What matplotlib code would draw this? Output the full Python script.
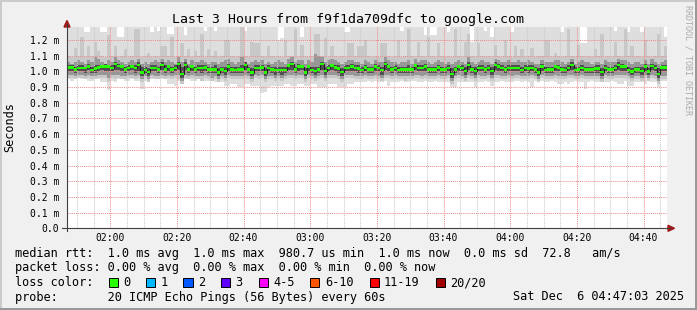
import matplotlib
matplotlib.use('Agg')
import matplotlib.pyplot as plt
import matplotlib.dates as mdates
from matplotlib.patches import Rectangle, Polygon
from matplotlib.lines import Line2D
from matplotlib.ticker import FuncFormatter, FixedLocator
from datetime import datetime, timedelta

# ---- data (ms), one value per 60 s step -------------------------------
start = datetime(2025, 12, 6, 1, 47, 3)

median = [
    1.025, 1.025, 1.013, 1.021, 1.021, 1.021, 1.030, 1.008, 1.017, 1.025, 1.030, 1.030, 1.030, 1.021, 1.047,
    1.034, 1.030, 1.013, 1.021, 1.030, 1.021, 1.042, 0.992, 1.008, 0.996, 1.021, 1.021, 1.013, 1.042, 1.013,
    1.030, 1.013, 1.021, 1.047, 0.983, 1.042, 1.013, 1.030, 1.013, 1.021, 1.021, 1.025, 1.013, 1.013, 1.013,
    0.992, 1.013, 1.004, 1.030, 1.013, 1.008, 1.013, 1.013, 1.042, 1.013, 0.992, 1.021, 1.021, 1.025, 0.992,
    1.021, 1.013, 1.008, 1.008, 1.008, 1.008, 1.038, 1.047, 1.013, 1.030, 1.030, 0.992, 1.030, 1.008, 1.004,
    1.013, 1.047, 1.004, 1.021, 1.038, 1.025, 1.017, 0.996, 1.021, 1.021, 1.030, 1.021, 1.017, 1.008, 1.025,
    1.013, 1.013, 1.030, 1.021, 1.008, 1.047, 1.030, 1.013, 1.021, 1.008, 1.013, 1.013, 1.013, 1.013, 1.038,
    1.021, 1.021, 1.030, 1.013, 1.013, 1.013, 1.025, 1.013, 1.013, 1.021, 0.983, 1.013, 1.030, 1.021, 1.004,
    1.042, 1.013, 1.004, 1.021, 1.021, 1.013, 1.021, 1.004, 1.042, 1.030, 1.021, 1.013, 1.021, 1.021, 1.021,
    1.021, 1.008, 1.021, 1.017, 1.021, 1.013, 0.992, 1.030, 1.008, 1.013, 1.013, 1.030, 1.025, 1.013, 1.008,
    1.021, 1.042, 1.008, 1.013, 1.021, 1.013, 1.013, 1.013, 1.017, 1.017, 0.996, 1.021, 1.013, 1.013, 1.021,
    1.042, 1.030, 1.030, 1.008, 1.000, 1.013, 1.013, 1.004, 1.030, 1.000, 1.034, 1.021, 0.983, 1.025, 1.025,
]

# smoke envelopes (from outer to inner)
ping_max = [
    1.30, 1.30, 1.30, 1.30, 1.30, 1.25, 1.25, 1.30, 1.30, 1.30, 1.25, 1.25, 1.30, 1.30, 1.30,
    1.22, 1.22, 1.30, 1.30, 1.30, 1.30, 1.30, 1.30, 1.30, 1.30, 1.25, 1.30, 1.26, 1.30, 1.30,
    1.24, 1.24, 1.30, 1.30, 1.30, 1.23, 1.30, 1.30, 1.30, 1.30, 1.30, 1.26, 1.30, 1.30, 1.26,
    1.30, 1.30, 1.30, 1.30, 1.30, 1.30, 1.30, 1.30, 1.26, 1.30, 1.30, 1.30, 1.30, 1.30, 1.30,
    1.30, 1.30, 1.30, 1.20, 1.21, 1.30, 1.30, 1.30, 1.30, 1.30, 1.22, 1.30, 1.30, 1.30, 1.30,
    1.30, 1.30, 1.30, 1.30, 1.30, 1.30, 1.30, 1.30, 1.25, 1.25, 1.30, 1.30, 1.30, 1.30, 1.30,
    1.30, 1.30, 1.30, 1.30, 1.30, 1.30, 1.30, 1.30, 1.30, 1.30, 1.26, 1.30, 1.30, 1.30, 1.30,
    1.30, 1.30, 1.23, 1.30, 1.23, 1.23, 1.30, 1.30, 1.30, 1.25, 1.30, 1.30, 1.30, 1.30, 1.30,
    1.30, 1.19, 1.30, 1.30, 1.30, 1.26, 1.30, 1.22, 1.30, 1.30, 1.30, 1.30, 1.30, 1.25, 1.30,
    1.30, 1.30, 1.30, 1.30, 1.30, 1.30, 1.30, 1.30, 1.30, 1.30, 1.30, 1.30, 1.30, 1.25, 1.30,
    1.30, 1.30, 1.30, 1.30, 1.18, 1.18, 1.30, 1.30, 1.30, 1.30, 1.30, 1.30, 1.30, 1.30, 1.26,
    1.30, 1.30, 1.30, 1.25, 1.30, 1.30, 1.30, 1.25, 1.30, 1.30, 1.30, 1.30, 1.30, 1.30, 1.22,
]
hi_mid = [
    1.10, 1.09, 1.15, 1.10, 1.22, 1.09, 1.16, 1.10, 1.19, 1.13, 1.10, 1.09, 1.23, 1.10, 1.16,
    1.09, 1.10, 1.14, 1.09, 1.10, 1.27, 1.27, 1.09, 1.10, 1.12, 1.09, 1.10, 1.09, 1.16, 1.16,
    1.10, 1.22, 1.09, 1.10, 1.18, 1.10, 1.14, 1.09, 1.13, 1.10, 1.24, 1.09, 1.14, 1.10, 1.13,
    1.09, 1.10, 1.20, 1.20, 1.10, 1.09, 1.10, 1.28, 1.10, 1.09, 1.19, 1.18, 1.18, 1.10, 1.09,
    1.16, 1.10, 1.09, 1.10, 1.09, 1.20, 1.10, 1.10, 1.27, 1.09, 1.17, 1.10, 1.09, 1.10, 1.24,
    1.24, 1.10, 1.21, 1.09, 1.16, 1.10, 1.09, 1.10, 1.09, 1.18, 1.18, 1.10, 1.16, 1.16, 1.20,
    1.10, 1.09, 1.10, 1.09, 1.18, 1.18, 1.10, 1.09, 1.10, 1.20, 1.09, 1.10, 1.27, 1.10, 1.09,
    1.19, 1.10, 1.09, 1.22, 1.10, 1.09, 1.18, 1.10, 1.09, 1.10, 1.09, 1.27, 1.10, 1.09, 1.19,
    1.24, 1.10, 1.09, 1.18, 1.10, 1.09, 1.10, 1.09, 1.17, 1.10, 1.09, 1.20, 1.10, 1.09, 1.16,
    1.10, 1.14, 1.09, 1.10, 1.15, 1.09, 1.10, 1.10, 1.20, 1.20, 1.09, 1.12, 1.10, 1.09, 1.10,
    1.27, 1.10, 1.09, 1.17, 1.10, 1.09, 1.10, 1.09, 1.14, 1.10, 1.24, 1.09, 1.10, 1.09, 1.19,
    1.10, 1.09, 1.27, 1.10, 1.16, 1.09, 1.10, 1.09, 1.20, 1.10, 1.09, 1.10, 1.24, 1.10, 1.16,
]
hi_grey = [
    1.06, 1.05, 1.06, 1.07, 1.06, 1.05, 1.07, 1.06, 1.09, 1.08, 1.06, 1.05, 1.07, 1.06, 1.09,
    1.07, 1.06, 1.05, 1.06, 1.07, 1.06, 1.08, 1.05, 1.06, 1.05, 1.06, 1.07, 1.06, 1.08, 1.06,
    1.07, 1.06, 1.05, 1.09, 1.06, 1.08, 1.05, 1.07, 1.06, 1.06, 1.07, 1.06, 1.05, 1.06, 1.06,
    1.05, 1.06, 1.07, 1.08, 1.06, 1.05, 1.06, 1.09, 1.06, 1.05, 1.06, 1.07, 1.06, 1.07, 1.05,
    1.06, 1.05, 1.06, 1.07, 1.06, 1.05, 1.08, 1.09, 1.06, 1.07, 1.07, 1.05, 1.07, 1.06, 1.11,
    1.10, 1.09, 1.06, 1.07, 1.08, 1.07, 1.06, 1.05, 1.06, 1.07, 1.07, 1.06, 1.06, 1.05, 1.07,
    1.06, 1.05, 1.07, 1.06, 1.06, 1.09, 1.07, 1.06, 1.06, 1.05, 1.06, 1.06, 1.07, 1.05, 1.08,
    1.06, 1.07, 1.07, 1.06, 1.05, 1.06, 1.07, 1.06, 1.05, 1.06, 1.05, 1.06, 1.07, 1.06, 1.05,
    1.09, 1.06, 1.05, 1.06, 1.07, 1.06, 1.06, 1.05, 1.08, 1.07, 1.06, 1.06, 1.07, 1.06, 1.06,
    1.07, 1.06, 1.06, 1.07, 1.06, 1.05, 1.05, 1.07, 1.06, 1.06, 1.06, 1.07, 1.07, 1.06, 1.05,
    1.06, 1.08, 1.05, 1.06, 1.07, 1.06, 1.06, 1.05, 1.06, 1.06, 1.05, 1.07, 1.06, 1.06, 1.06,
    1.08, 1.07, 1.07, 1.06, 1.05, 1.06, 1.06, 1.05, 1.07, 1.05, 1.08, 1.06, 1.05, 1.06, 1.07,
]
core_hi = [
    1.04, 1.04, 1.03, 1.04, 1.04, 1.03, 1.05, 1.03, 1.04, 1.04, 1.04, 1.05, 1.04, 1.04, 1.06,
    1.05, 1.04, 1.03, 1.04, 1.04, 1.04, 1.06, 1.03, 1.03, 1.02, 1.04, 1.04, 1.03, 1.06, 1.04,
    1.04, 1.03, 1.04, 1.06, 1.03, 1.06, 1.03, 1.04, 1.03, 1.04, 1.04, 1.04, 1.03, 1.03, 1.04,
    1.02, 1.03, 1.03, 1.05, 1.03, 1.03, 1.03, 1.04, 1.06, 1.03, 1.02, 1.04, 1.04, 1.04, 1.02,
    1.04, 1.03, 1.03, 1.03, 1.03, 1.03, 1.05, 1.06, 1.03, 1.05, 1.04, 1.02, 1.04, 1.03, 1.03,
    1.03, 1.06, 1.03, 1.04, 1.05, 1.04, 1.04, 1.02, 1.04, 1.04, 1.05, 1.04, 1.04, 1.03, 1.04,
    1.03, 1.03, 1.05, 1.04, 1.03, 1.06, 1.04, 1.03, 1.04, 1.03, 1.03, 1.03, 1.04, 1.03, 1.05,
    1.04, 1.04, 1.05, 1.03, 1.03, 1.03, 1.04, 1.03, 1.03, 1.04, 1.02, 1.03, 1.04, 1.04, 1.03,
    1.06, 1.03, 1.03, 1.04, 1.04, 1.03, 1.04, 1.03, 1.06, 1.05, 1.04, 1.03, 1.04, 1.04, 1.04,
    1.04, 1.03, 1.04, 1.04, 1.04, 1.03, 1.02, 1.05, 1.03, 1.03, 1.03, 1.04, 1.04, 1.03, 1.03,
    1.04, 1.06, 1.03, 1.03, 1.04, 1.03, 1.03, 1.03, 1.04, 1.04, 1.02, 1.04, 1.03, 1.03, 1.04,
    1.06, 1.05, 1.04, 1.03, 1.02, 1.03, 1.03, 1.03, 1.05, 1.02, 1.05, 1.04, 1.02, 1.04, 1.04,
]
core_lo = [
    1.00, 1.00, 0.99, 1.00, 1.00, 0.99, 1.01, 0.99, 0.99, 1.00, 1.01, 1.00, 1.00, 1.00, 1.01,
    1.01, 1.00, 0.99, 1.00, 1.01, 0.99, 1.00, 0.97, 0.99, 0.97, 1.00, 1.00, 0.99, 1.01, 0.99,
    1.00, 0.99, 1.00, 1.01, 0.96, 1.01, 0.99, 1.00, 0.99, 1.00, 0.99, 1.00, 0.99, 0.99, 0.99,
    0.97, 0.99, 0.98, 1.00, 0.99, 0.99, 0.99, 0.99, 1.01, 0.99, 0.97, 1.00, 1.00, 1.00, 0.97,
    1.00, 0.99, 0.98, 0.99, 0.98, 0.99, 1.01, 1.01, 0.99, 1.00, 1.01, 0.97, 1.00, 0.99, 0.98,
    0.99, 1.01, 0.98, 1.00, 1.01, 1.00, 0.99, 0.97, 1.00, 1.00, 1.00, 1.00, 0.99, 0.99, 1.00,
    0.99, 0.99, 1.00, 1.00, 0.98, 1.01, 1.00, 0.99, 1.00, 0.99, 0.99, 0.99, 0.99, 0.99, 1.01,
    1.00, 1.00, 1.00, 0.99, 0.99, 0.99, 1.00, 0.99, 0.99, 1.00, 0.96, 0.99, 1.00, 1.00, 0.98,
    1.01, 0.99, 0.98, 1.00, 1.00, 0.99, 1.00, 0.98, 1.01, 1.00, 1.00, 0.99, 1.00, 1.00, 1.00,
    1.00, 0.99, 1.00, 0.99, 1.00, 0.99, 0.97, 1.00, 0.99, 0.99, 0.99, 1.00, 1.00, 0.99, 0.99,
    1.00, 1.01, 0.99, 0.99, 1.00, 0.99, 0.99, 0.99, 0.99, 0.99, 0.97, 1.00, 0.99, 0.99, 1.00,
    1.01, 1.00, 1.00, 0.99, 0.98, 0.99, 0.99, 0.98, 1.00, 0.98, 1.01, 1.00, 0.96, 1.00, 1.00,
]
lo_grey = [
    0.98, 0.98, 0.97, 0.98, 0.98, 0.97, 0.98, 0.97, 0.97, 0.98, 0.98, 0.98, 0.96, 0.98, 0.98,
    0.98, 0.97, 0.97, 0.98, 0.98, 0.97, 0.98, 0.95, 0.97, 0.95, 0.98, 0.97, 0.97, 0.98, 0.97,
    0.98, 0.97, 0.98, 0.98, 0.94, 0.98, 0.97, 0.98, 0.97, 0.97, 0.97, 0.98, 0.97, 0.96, 0.97,
    0.95, 0.97, 0.96, 0.98, 0.97, 0.97, 0.97, 0.97, 0.98, 0.97, 0.95, 0.98, 0.97, 0.98, 0.95,
    0.97, 0.97, 0.96, 0.97, 0.96, 0.97, 0.98, 0.98, 0.97, 0.98, 0.98, 0.95, 0.98, 0.97, 0.96,
    0.97, 0.98, 0.96, 0.98, 0.98, 0.98, 0.97, 0.95, 0.98, 0.98, 0.98, 0.97, 0.97, 0.97, 0.98,
    0.97, 0.97, 0.98, 0.97, 0.96, 0.98, 0.98, 0.97, 0.98, 0.97, 0.97, 0.97, 0.97, 0.97, 0.98,
    0.98, 0.97, 0.98, 0.97, 0.97, 0.97, 0.98, 0.97, 0.97, 0.98, 0.94, 0.97, 0.98, 0.97, 0.96,
    0.98, 0.97, 0.96, 0.98, 0.97, 0.97, 0.98, 0.96, 0.98, 0.98, 0.97, 0.97, 0.98, 0.97, 0.98,
    0.98, 0.97, 0.97, 0.97, 0.98, 0.97, 0.95, 0.98, 0.97, 0.97, 0.97, 0.98, 0.97, 0.97, 0.97,
    0.98, 0.98, 0.97, 0.97, 0.98, 0.97, 0.97, 0.97, 0.97, 0.97, 0.95, 0.98, 0.97, 0.97, 0.98,
    0.98, 0.98, 0.98, 0.97, 0.96, 0.97, 0.97, 0.96, 0.98, 0.96, 0.98, 0.97, 0.94, 0.97, 0.97,
]
lo_mid = [
    0.96, 0.96, 0.95, 0.96, 0.96, 0.95, 0.96, 0.95, 0.95, 0.96, 0.96, 0.96, 0.93, 0.96, 0.95,
    0.96, 0.95, 0.95, 0.96, 0.96, 0.95, 0.96, 0.93, 0.95, 0.93, 0.96, 0.95, 0.95, 0.96, 0.95,
    0.96, 0.95, 0.96, 0.95, 0.92, 0.96, 0.95, 0.96, 0.95, 0.95, 0.94, 0.96, 0.95, 0.94, 0.95,
    0.93, 0.95, 0.94, 0.96, 0.95, 0.95, 0.95, 0.95, 0.96, 0.95, 0.93, 0.96, 0.95, 0.96, 0.93,
    0.95, 0.95, 0.94, 0.95, 0.94, 0.95, 0.96, 0.96, 0.95, 0.96, 0.96, 0.93, 0.96, 0.95, 0.94,
    0.95, 0.96, 0.94, 0.96, 0.96, 0.96, 0.95, 0.93, 0.96, 0.96, 0.96, 0.95, 0.95, 0.95, 0.96,
    0.95, 0.95, 0.96, 0.95, 0.94, 0.96, 0.96, 0.95, 0.96, 0.95, 0.95, 0.94, 0.95, 0.95, 0.96,
    0.96, 0.95, 0.96, 0.95, 0.95, 0.95, 0.96, 0.95, 0.95, 0.96, 0.92, 0.95, 0.96, 0.95, 0.94,
    0.96, 0.95, 0.94, 0.96, 0.95, 0.95, 0.96, 0.94, 0.96, 0.96, 0.95, 0.95, 0.96, 0.95, 0.96,
    0.96, 0.95, 0.95, 0.95, 0.96, 0.95, 0.93, 0.96, 0.95, 0.95, 0.95, 0.96, 0.95, 0.95, 0.95,
    0.96, 0.96, 0.95, 0.95, 0.96, 0.95, 0.95, 0.95, 0.95, 0.95, 0.93, 0.96, 0.95, 0.95, 0.96,
    0.96, 0.96, 0.96, 0.95, 0.94, 0.95, 0.95, 0.94, 0.96, 0.94, 0.96, 0.95, 0.92, 0.95, 0.95,
]
ping_min = [
    0.95, 0.94, 0.96, 0.96, 0.95, 0.95, 0.94, 0.94, 0.95, 0.95, 0.93, 0.93, 0.88, 0.94, 0.93,
    0.95, 0.95, 0.94, 0.94, 0.95, 0.94, 0.94, 0.89, 0.94, 0.95, 0.95, 0.96, 0.96, 0.95, 0.95,
    0.92, 0.92, 0.91, 0.94, 0.93, 0.95, 0.95, 0.94, 0.94, 0.95, 0.95, 0.94, 0.94, 0.94, 0.93,
    0.93, 0.93, 0.91, 0.91, 0.92, 0.92, 0.90, 0.90, 0.92, 0.92, 0.91, 0.91, 0.91, 0.86, 0.87,
    0.90, 0.91, 0.91, 0.91, 0.91, 0.92, 0.92, 0.91, 0.91, 0.92, 0.92, 0.91, 0.91, 0.92, 0.92,
    0.90, 0.90, 0.90, 0.92, 0.92, 0.92, 0.90, 0.90, 0.90, 0.92, 0.92, 0.93, 0.93, 0.93, 0.93,
    0.94, 0.93, 0.94, 0.93, 0.93, 0.94, 0.91, 0.93, 0.93, 0.93, 0.94, 0.93, 0.93, 0.94, 0.94,
    0.93, 0.93, 0.94, 0.93, 0.93, 0.94, 0.93, 0.93, 0.93, 0.93, 0.90, 0.90, 0.93, 0.93, 0.93,
    0.93, 0.93, 0.90, 0.93, 0.93, 0.94, 0.93, 0.91, 0.93, 0.93, 0.94, 0.93, 0.93, 0.93, 0.94,
    0.94, 0.93, 0.94, 0.93, 0.90, 0.94, 0.93, 0.94, 0.93, 0.93, 0.94, 0.93, 0.92, 0.92, 0.93,
    0.92, 0.93, 0.94, 0.93, 0.93, 0.89, 0.93, 0.94, 0.93, 0.93, 0.94, 0.93, 0.93, 0.94, 0.93,
    0.92, 0.92, 0.94, 0.91, 0.91, 0.93, 0.93, 0.93, 0.92, 0.94, 0.93, 0.93, 0.90, 0.94, 0.94,
]

y_ticks = [0.0, 0.1, 0.2, 0.3, 0.4, 0.5, 0.6, 0.7, 0.8, 0.9, 1.0, 1.1, 1.2]

loss_labels = ['0', '1', '2', '3', '4-5', '6-10', '11-19', '20/20']
loss_colors = ['#26ff00', '#00b8ff', '#0059ff', '#5e00ff', '#ff00ff', '#ff5500', '#ff0000', '#a10000']

title = 'Last 3 Hours from f9f1da709dfc to google.com'
rtt_line = 'median rtt:  1.0 ms avg  1.0 ms max  980.7 us min  1.0 ms now  0.0 ms sd  72.8   am/s'
loss_line = 'packet loss: 0.00 % avg  0.00 % max  0.00 % min  0.00 % now'
probe_line = 'probe:       20 ICMP Echo Pings (56 Bytes) every 60s'
date_text = 'Sat Dec  6 04:47:03 2025'

# ---- figure ------------------------------------------------------------
plt.rcParams['font.family'] = 'DejaVu Sans Mono'
W, H = 697, 310
fig = plt.figure(figsize=(W / 100, H / 100), dpi=100, facecolor='#f0f0f0')


def fx(px):
    return px / W


def fy(py):
    return 1 - py / H


left, right, top, bottom = 67, 667, 27.3, 228.3
ax = fig.add_axes([fx(left), fy(bottom), fx(right) - fx(left), fy(top) - fy(bottom)])
ax.set_facecolor('white')

edges = mdates.date2num([start + timedelta(minutes=i) for i in range(len(median) + 1)])

# smoke, outer to inner
ax.stairs(ping_max, edges, baseline=ping_min, fill=True, color='#dedede', lw=0)
ax.stairs(hi_mid, edges, baseline=lo_mid, fill=True, color='#c8c8c8', lw=0)
ax.stairs(hi_grey, edges, baseline=lo_grey, fill=True, color='#979797', lw=0)
ax.stairs(core_hi, edges, baseline=core_lo, fill=True, color='#505050', lw=0)

# median line + loss colour marker
ax.stairs(median, edges, baseline=None, color='#202020', lw=0.8, zorder=3)
half = 0.008
ax.stairs([m + half for m in median], edges, baseline=[m - half for m in median],
          fill=True, color=loss_colors[0], lw=0, zorder=4)

ax.set_xlim(edges[0], edges[-1])
ax.set_ylim(0, 1.281)

ax.xaxis.set_major_locator(mdates.MinuteLocator(byminute=[0, 20, 40]))
ax.xaxis.set_minor_locator(mdates.MinuteLocator(byminute=range(0, 60, 5)))
ax.xaxis.set_major_formatter(mdates.DateFormatter('%H:%M'))
ax.yaxis.set_major_locator(FixedLocator(y_ticks))
ax.yaxis.set_major_formatter(FuncFormatter(lambda v, p: '0.0' if abs(v) < 1e-9 else f'{v:.1f} m'))

dot = (0, (1, 1))
ax.xaxis.grid(True, which='minor', color='#c8c8c8', lw=0.75, ls=dot)
ax.xaxis.grid(True, which='major', color='#f08c8c', lw=0.75, ls=dot)
ax.yaxis.grid(True, which='major', color='#f08c8c', lw=0.75, ls=dot)

ax.tick_params(axis='both', which='both', length=0, labelsize=7, colors='black')
ax.tick_params(axis='x', pad=3.2)
ax.tick_params(axis='y', pad=5.5)
for s in ax.spines.values():
    s.set_visible(False)

# axes with arrows (pixel coords)
axis_col = '#404040'
fig.add_artist(Line2D([fx(62), fx(670)], [fy(bottom), fy(bottom)], color=axis_col, lw=0.8))
fig.add_artist(Line2D([fx(left), fx(left)], [fy(231), fy(24)], color=axis_col, lw=0.8))
arrow_col = '#a01818'
fig.add_artist(Polygon([(fx(left - 3), fy(27)), (fx(left + 3), fy(27)), (fx(left), fy(20.5))],
                       closed=True, color=arrow_col, transform=fig.transFigure))
fig.add_artist(Polygon([(fx(668), fy(bottom - 3)), (fx(668), fy(bottom + 3)), (fx(674.5), fy(bottom))],
                       closed=True, color=arrow_col, transform=fig.transFigure))

# frame
fig.add_artist(Rectangle((0, fy(2)), 1, 2 / H, transform=fig.transFigure, color='#cbcbcb', lw=0))
fig.add_artist(Rectangle((0, 0), 2 / W, 1, transform=fig.transFigure, color='#cbcbcb', lw=0))
fig.add_artist(Rectangle((0, 0), 1, 2 / H, transform=fig.transFigure, color='#999999', lw=0))
fig.add_artist(Rectangle((fx(W - 2), 0), 2 / W, 1, transform=fig.transFigure, color='#999999', lw=0))

# texts
fig.text(fx(348.5), fy(19.5), title, ha='center', va='center', fontsize=9.55)
fig.text(fx(10), fy(127.5), 'Seconds', rotation=90, ha='center', va='center', fontsize=8.6)
fig.text(fx(688), fy(5), 'RRDTOOL / TOBI OETIKER', rotation=270, ha='center', va='top',
         fontsize=6, color='#ababab')

fs = 8.6
fig.text(fx(15), fy(253.5), rtt_line, ha='left', va='center', fontsize=fs)
fig.text(fx(15), fy(268), loss_line, ha='left', va='center', fontsize=fs)
fig.text(fx(15), fy(282.5), 'loss color:', ha='left', va='center', fontsize=fs)
fig.text(fx(15), fy(297), probe_line, ha='left', va='center', fontsize=fs)
fig.text(fx(684), fy(297), date_text, ha='right', va='center', fontsize=fs)

bx = 108.5
for lab, col in zip(loss_labels, loss_colors):
    fig.add_artist(Rectangle((fx(bx), fy(286.5)), 9 / W, 9 / H, transform=fig.transFigure,
                             facecolor=col, edgecolor='black', lw=0.7))
    fig.text(fx(bx + 14.5), fy(282.5), lab, ha='left', va='center', fontsize=fs)
    bx += 30.3 + 7.2 * len(lab)

fig.savefig('out.png', dpi=100, facecolor=fig.get_facecolor())
